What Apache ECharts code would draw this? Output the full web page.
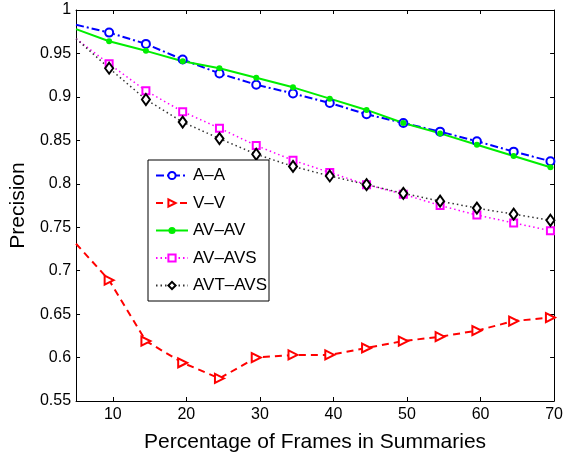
<!DOCTYPE html>
<html>
<head>
<meta charset="utf-8">
<script src="https://cdn.jsdelivr.net/npm/echarts@6/dist/echarts.min.js"></script>
<style>
html,body{margin:0;padding:0;background:#fff;}
#chart{width:566px;height:458px;}
</style>
</head>
<body>
<div id="chart"></div>
<script>
// ---- data ----
var xValues = [5, 9.5, 14.5, 19.5, 24.5, 29.5, 34.5, 39.5, 44.5, 49.5, 54.5, 59.5, 64.5, 69.5];
var seriesNames = ['A\u2013A', 'V\u2013V', 'AV\u2013AV', 'AV\u2013AVS', 'AVT\u2013AVS'];
var aa     = [0.983, 0.974, 0.961, 0.943, 0.927, 0.914, 0.904, 0.893, 0.880, 0.870, 0.860, 0.849, 0.837, 0.826];
var vv     = [0.731, 0.689, 0.619, 0.594, 0.576, 0.600, 0.603, 0.603, 0.611, 0.619, 0.624, 0.631, 0.642, 0.646];
var avav   = [0.978, 0.964, 0.953, 0.941, 0.933, 0.922, 0.911, 0.898, 0.885, 0.870, 0.858, 0.845, 0.832, 0.819];
var avavs  = [0.967, 0.938, 0.907, 0.883, 0.864, 0.844, 0.827, 0.813, 0.799, 0.788, 0.775, 0.764, 0.755, 0.746];
var avtavs = [0.967, 0.933, 0.897, 0.871, 0.852, 0.834, 0.820, 0.809, 0.799, 0.789, 0.780, 0.772, 0.765, 0.758];
var xTicks = [10, 20, 30, 40, 50, 60, 70];
var yMin = 0.55, yMax = 1, yStep = 0.05;
var xMin = 5, xMax = 70;

function pts(ys) {
  return xValues.map(function (x, i) {
    var d = { value: [x, ys[i]] };
    if (i === 0) d.symbol = 'none';
    return d;
  });
}

var FONT = '"Liberation Sans", Arial, Helvetica, sans-serif';
var chart = echarts.init(document.getElementById('chart'), null, { renderer: 'canvas' });

var grid = { left: 71, right: 11, top: 10, bottom: 51, containLabel: false };

var option = {
  animation: false,
  backgroundColor: '#fff',
  textStyle: { fontFamily: FONT },
  grid: grid,
  legend: {
    orient: 'vertical',
    left: 148,
    top: 160,
    width: 122,
    padding: [7, 2, 7, 7],
    itemWidth: 32,
    itemHeight: 9,
    itemGap: 10.5,
    backgroundColor: '#fff',
    borderColor: '#000',
    borderWidth: 1,
    borderRadius: 0,
    textStyle: { fontFamily: FONT, fontSize: 17, color: '#000', lineHeight: 17 },
    data: seriesNames
  },
  xAxis: [{
    type: 'value',
    min: xMin, max: xMax,
    name: 'Percentage of Frames in Summaries',
    nameLocation: 'middle',
    nameGap: 31,
    nameTextStyle: { fontFamily: FONT, fontSize: 21, color: '#000' },
    axisLine: { show: true, onZero: false, lineStyle: { color: '#000', width: 1 } },
    axisTick: { show: true, inside: true, length: 4, customValues: xTicks, lineStyle: { color: '#000' } },
    axisLabel: { show: true, customValues: xTicks, fontFamily: FONT, fontSize: 16, color: '#000', margin: 6 },
    splitLine: { show: false }
  }, {
    type: 'value',
    position: 'top',
    min: xMin, max: xMax,
    axisLine: { show: true, onZero: false, lineStyle: { color: '#000', width: 1 } },
    axisTick: { show: true, inside: true, length: 4, customValues: xTicks, lineStyle: { color: '#000' } },
    axisLabel: { show: false },
    splitLine: { show: false }
  }],
  yAxis: [{
    type: 'value',
    min: yMin, max: yMax, interval: yStep,
    name: 'Precision',
    nameLocation: 'middle',
    nameGap: 44,
    nameTextStyle: { fontFamily: FONT, fontSize: 21, color: '#000' },
    axisLine: { show: true, onZero: false, lineStyle: { color: '#000', width: 1 } },
    axisTick: { show: true, inside: true, length: 4, lineStyle: { color: '#000' } },
    axisLabel: {
      fontFamily: FONT, fontSize: 16, color: '#000', margin: 5,
      formatter: function (v) { return String(+(+v).toFixed(2)); }
    },
    splitLine: { show: false }
  }, {
    type: 'value',
    position: 'right',
    min: yMin, max: yMax, interval: yStep,
    axisLine: { show: true, onZero: false, lineStyle: { color: '#000', width: 1 } },
    axisTick: { show: true, inside: true, length: 4, lineStyle: { color: '#000' } },
    axisLabel: { show: false },
    splitLine: { show: false }
  }],
  series: [
    {
      name: seriesNames[0], type: 'line', data: pts(aa),
      symbol: 'emptyCircle', symbolSize: 8,
      lineStyle: { color: '#0000ff', width: 2, type: [8, 3, 2, 3] },
      itemStyle: { color: '#0000ff', borderColor: '#0000ff', borderWidth: 1.8 }
    },
    {
      name: seriesNames[1], type: 'line', data: pts(vv),
      symbol: 'emptyTriangle', symbolSize: 9, symbolRotate: -90,
      lineStyle: { color: '#ff0000', width: 2, type: [7, 5] },
      itemStyle: { color: '#ff0000', borderColor: '#ff0000', borderWidth: 1.8 }
    },
    {
      name: seriesNames[2], type: 'line', data: pts(avav),
      symbol: 'circle', symbolSize: 6,
      lineStyle: { color: '#00ee00', width: 2, type: 'solid' },
      itemStyle: { color: '#00ee00', borderColor: '#00ee00', borderWidth: 0 }
    },
    {
      name: seriesNames[3], type: 'line', data: pts(avavs),
      symbol: 'emptyRect', symbolSize: 7,
      lineStyle: { color: '#ff00ff', width: 1.5, type: [1.5, 3] },
      itemStyle: { color: '#ff00ff', borderColor: '#ff00ff', borderWidth: 1.8 }
    },
    {
      name: seriesNames[4], type: 'line', data: pts(avtavs),
      symbol: 'emptyDiamond', symbolSize: [8, 11],
      lineStyle: { color: '#333', width: 1.5, type: [1.5, 3] },
      itemStyle: { color: '#000', borderColor: '#000', borderWidth: 1.8 }
    }
  ]
};
chart.setOption(option);
</script>
</body>
</html>
